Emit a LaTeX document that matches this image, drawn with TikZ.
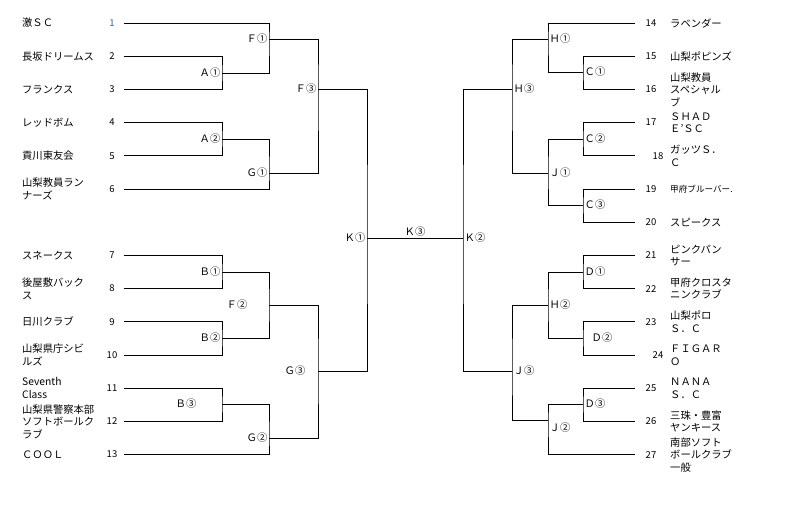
\documentclass[tikz,border=0pt]{standalone}
\usepackage{fontspec}
\setmainfont{Noto Sans CJK JP}
\usetikzlibrary{positioning}
\definecolor{numblue}{RGB}{30,100,200}
\tikzstyle{team}=[anchor=west,align=left,inner sep=0pt,font=\fontsize{10.3}{12.5}\selectfont]
\tikzstyle{small team}=[team,font=\fontsize{8.6}{11}\selectfont]
\tikzstyle{num}=[inner sep=0pt,font=\fontsize{9.5}{11}\selectfont]
\tikzstyle{game}=[inner sep=1.5pt,font=\fontsize{10.3}{12}\selectfont]
\tikzstyle{bracket}=[line width=0.9pt]

\begin{document}
\begin{tikzpicture}[x=1pt,y=-1pt]
\useasboundingbox (0,0) rectangle (806,504);

% numbers and line ends
\node[num,text=numblue] (no1) at (112,23) {1};
\coordinate (t1) at (124,23);
\foreach \i/\y in {2/56.2,3/89.4,4/122.6,5/155.8,6/189,7/255.4,8/288.6,
                   9/321.8,10/355,11/388.2,12/421.4,13/454.6}{
  \node[num] (no\i) at (112,\y) {\i};
  \coordinate (t\i) at (124,\y);
}
\foreach \i/\x/\y in {14/651/23,15/651/56.2,16/651/89.4,17/651/122.6,
                      18/658/155.8,19/651/189,20/651/222.2,21/651/255.4,
                      22/651/288.6,23/651/321.8,24/658/355,25/651/388.2,
                      26/651/421.4,27/651/454.6}{
  \node[num] (no\i) at (\x,\y) {\i};
  \coordinate (t\i) at (635,\y);
}

% left teams
\node[team] (team1) at (22,23) {激ＳＣ};
\node[team] (team2) at (22,56.2) {長坂ドリームス};
\node[team] (team3) at (22,89.4) {フランクス};
\node[team] (team4) at (22,122.6) {レッドボム};
\node[team] (team5) at (22,155.8) {貢川東友会};
\node[team] (team6) at (22,189) {山梨教員ラン\\ナーズ};
\node[team] (team7) at (22,255.4) {スネークス};
\node[team] (team8) at (22,288.6) {後屋敷バック\\ス};
\node[team] (team9) at (22,321.8) {日川クラブ};
\node[team] (team10) at (22,355) {山梨県庁シビ\\ルズ};
\node[team] (team11) at (22,388.2) {Seventh\\Class};
\node[team] (team12) at (22,421.4) {山梨県警察本部\\ソフトボールク\\ラブ};
\node[team] (team13) at (22,454.6) {ＣＯＯＬ};

% right teams
\node[team] (team14) at (670,23) {ラベンダー};
\node[team] (team15) at (670,56.2) {山梨ポピンズ};
\node[team] (team16) at (670,89.4) {山梨教員\\スペシャル\\ブ};
\node[team] (team17) at (670,122.6) {ＳＨＡＤ\\Ｅ’ＳＣ};
\node[team] (team18) at (670,155.8) {ガッツＳ．\\Ｃ};
\node[small team] (team19) at (670,189) {甲府ブルーバー.};
\node[team] (team20) at (670,222.2) {スピークス};
\node[team] (team21) at (670,255.4) {ピンクパン\\サー};
\node[team] (team22) at (670,288.6) {甲府クロスタ\\ニンクラブ};
\node[team] (team23) at (670,321.8) {山梨ポロ\\Ｓ．Ｃ};
\node[team] (team24) at (670,355) {ＦＩＧＡＲ\\Ｏ};
\node[team] (team25) at (670,388.2) {ＮＡＮＡ\\Ｓ．Ｃ};
\node[team] (team26) at (670,421.4) {三珠・豊富\\ヤンキース};
\node[team] (team27) at (670,454.6) {南部ソフト\\ボールクラブ\\一般};

% left games
\coordinate (A1) at (222,73);
\coordinate (A2) at (222,139);
\coordinate (F1) at (269,39);
\coordinate (G1) at (269,173);
\coordinate (F3) at (318,89);
\coordinate (B1) at (222,272);
\coordinate (B2) at (222,338);
\coordinate (F2) at (269,305);
\coordinate (B3) at (222,404);
\coordinate (G2) at (269,438);
\coordinate (G3) at (318,371);
\coordinate (K1) at (367,238);

% right games
\coordinate (C1) at (583,72);
\coordinate (H1) at (548,39);
\coordinate (C2) at (583,139);
\coordinate (C3) at (583,205);
\coordinate (J1) at (548,173);
\coordinate (H3) at (512,89);
\coordinate (D1) at (583,272);
\coordinate (D2) at (583,338);
\coordinate (H2) at (548,305);
\coordinate (D3) at (583,404);
\coordinate (J2) at (548,420);
\coordinate (J3) at (512,371);
\coordinate (K2) at (463,238);

% brackets
\draw[bracket] (t2) -| (A1) |- (t3);
\draw[bracket] (t4) -| (A2) |- (t5);
\draw[bracket] (t1) -| (F1) |- (A1);
\draw[bracket] (A2) -| (G1) |- (t6);
\draw[bracket] (F1) -| (F3) |- (G1);
\draw[bracket] (t7) -| (B1) |- (t8);
\draw[bracket] (t9) -| (B2) |- (t10);
\draw[bracket] (B1) -| (F2) |- (B2);
\draw[bracket] (t11) -| (B3) |- (t12);
\draw[bracket] (B3) -| (G2) |- (t13);
\draw[bracket] (F2) -| (G3) |- (G2);
\draw[bracket] (F3) -| (K1) |- (G3);
\draw[bracket] (t15) -| (C1) |- (t16);
\draw[bracket] (t14) -| (H1) |- (C1);
\draw[bracket] (t17) -| (C2) |- (t18);
\draw[bracket] (t19) -| (C3) |- (t20);
\draw[bracket] (C2) -| (J1) |- (C3);
\draw[bracket] (H1) -| (H3) |- (J1);
\draw[bracket] (t21) -| (D1) |- (t22);
\draw[bracket] (t23) -| (D2) |- (t24);
\draw[bracket] (D1) -| (H2) |- (D2);
\draw[bracket] (t25) -| (D3) |- (t26);
\draw[bracket] (D3) -| (J2) |- (t27);
\draw[bracket] (H2) -| (J3) |- (J2);
\draw[bracket] (H3) -| (K2) |- (J3);
\draw[bracket] (K1) -- node[game,above] (lK3) {Ｋ③} (K2);

% game labels
\node[game,left] (lA1) at (A1) {Ａ①};
\node[game,left] (lA2) at (A2) {Ａ②};
\node[game,left] (lF1) at (F1) {Ｆ①};
\node[game,left] (lG1) at (G1) {Ｇ①};
\node[game,left] (lF3) at (F3) {Ｆ③};
\node[game,left] (lB1) at (B1) {Ｂ①};
\node[game,left] (lB2) at (B2) {Ｂ②};
\node[game,left=20pt of F2] (lF2) {Ｆ②};
\node[game,left=24pt of B3] (lB3) {Ｂ③};
\node[game,left] (lG2) at (G2) {Ｇ②};
\node[game,left=11pt of G3] (lG3) {Ｇ③};
\node[game,left] (lK1) at (K1) {Ｋ①};
\node[game,right] (lK2) at (K2) {Ｋ②};
\node[game,right] (lH1) at (H1) {Ｈ①};
\node[game,right] (lC1) at (C1) {Ｃ①};
\node[game,right] (lH3) at (H3) {Ｈ③};
\node[game,right] (lC2) at (C2) {Ｃ②};
\node[game,right] (lJ1) at (J1) {Ｊ①};
\node[game,right] (lC3) at (C3) {Ｃ③};
\node[game,right] (lD1) at (D1) {Ｄ①};
\node[game,right] (lH2) at (H2) {Ｈ②};
\node[game,right=7pt of D2] (lD2) {Ｄ②};
\node[game,right] (lJ3) at (J3) {Ｊ③};
\node[game,right] (lD3) at (D3) {Ｄ③};
\node[game,below right=1pt and 0pt of J2] (lJ2) {Ｊ②};
\end{tikzpicture}
\end{document}
